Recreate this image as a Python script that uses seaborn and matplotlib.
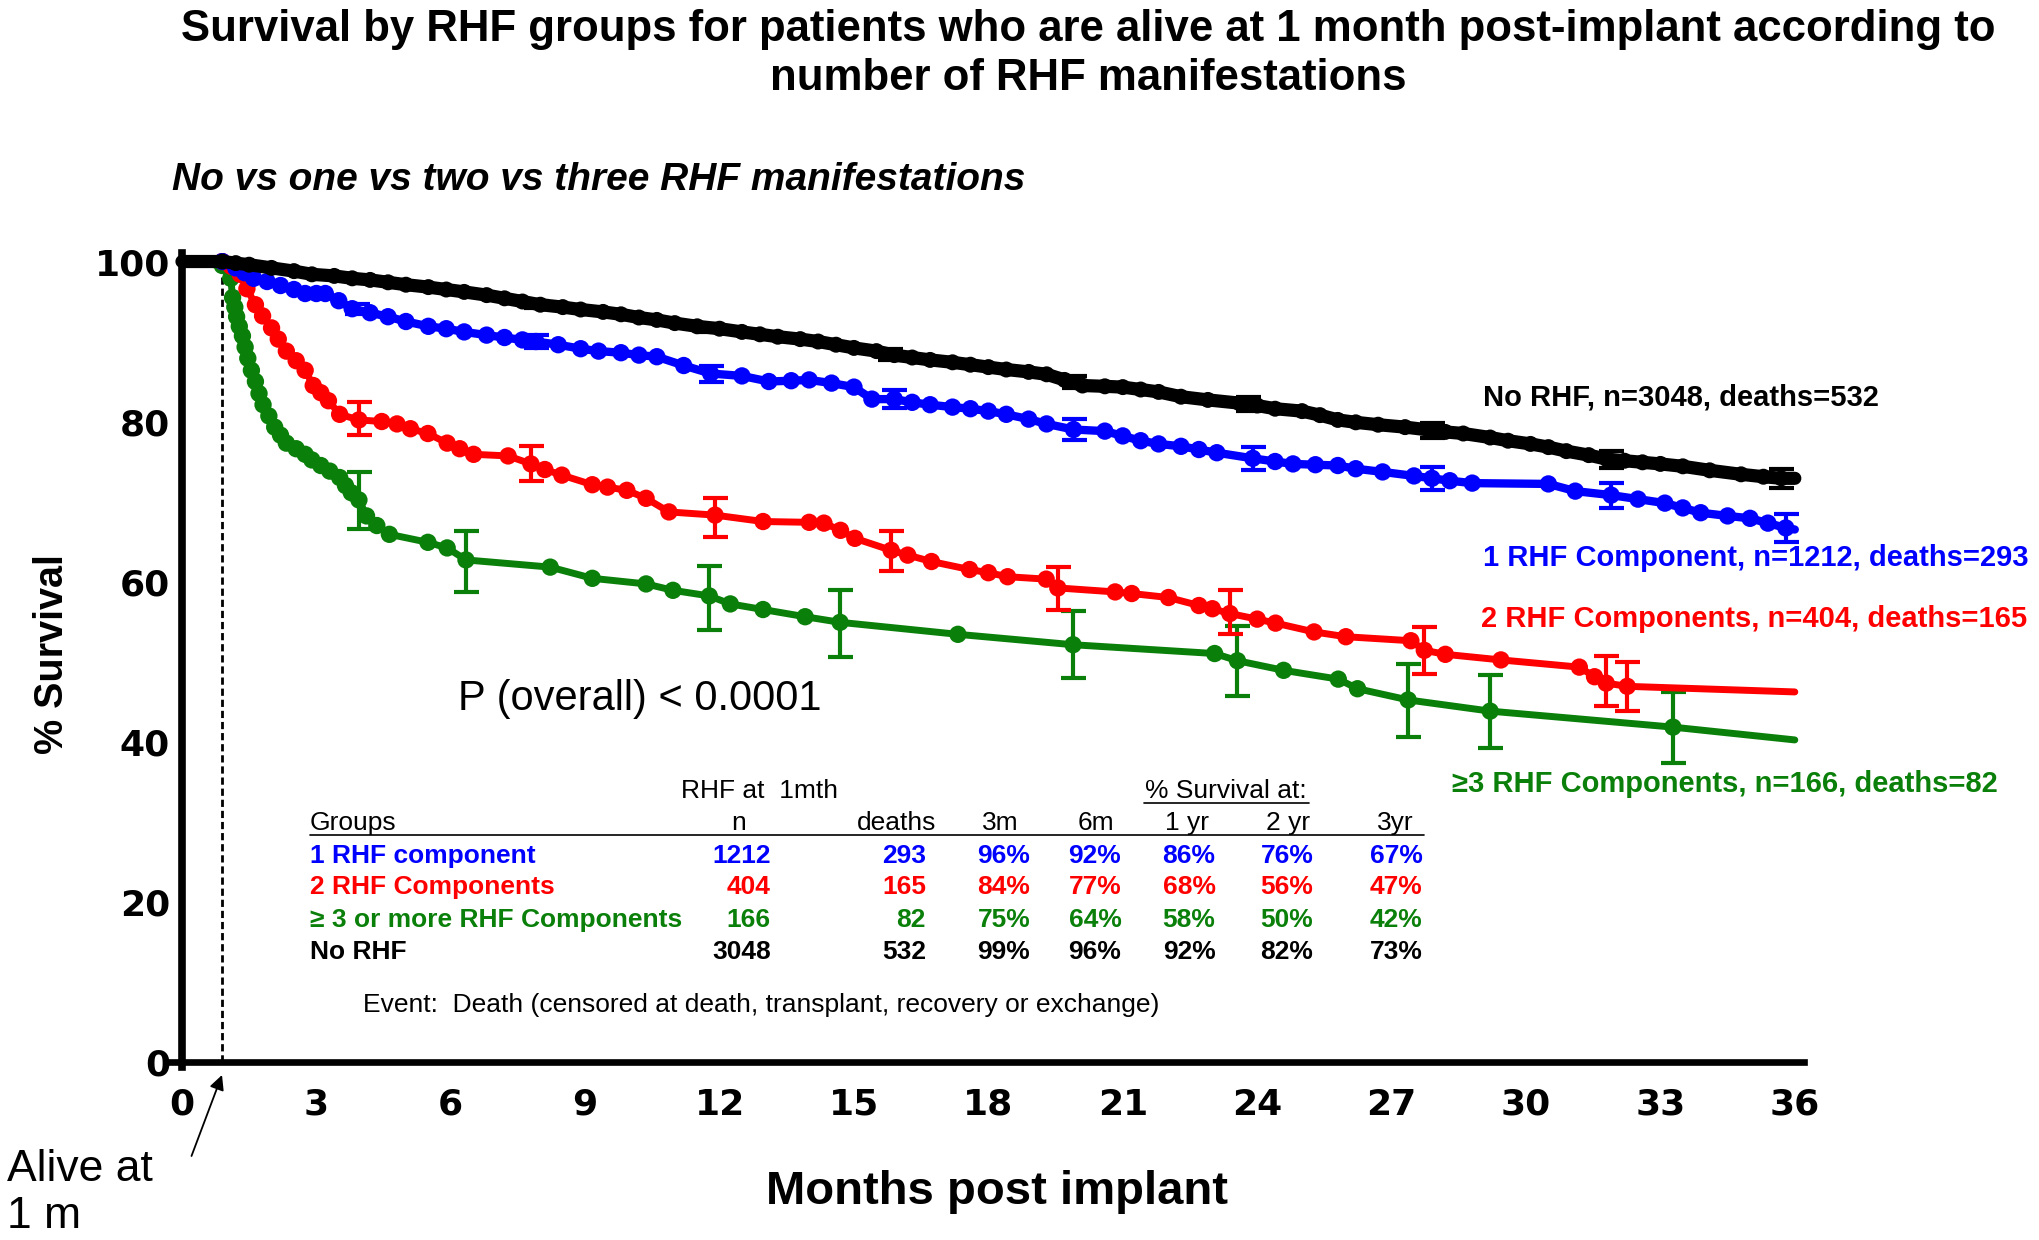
import numpy as np
import pandas as pd
import matplotlib
matplotlib.use("Agg")
import matplotlib.pyplot as plt
import seaborn as sns
from matplotlib.lines import Line2D

# ---------------- data ----------------
XTICKS = list(range(0, 37, 3))
YTICKS = list(range(0, 101, 20))
ALIVE_T = 0.9

# No RHF
no_t = [0, 0.9, 1.2, 1.5, 2.0, 2.5, 2.9, 3.4, 3.8, 4.2, 4.6, 5.0, 5.5, 5.9, 6.3, 6.8, 7.2, 7.6,
        8.0, 8.5, 8.9, 9.4, 9.8, 10.2, 10.6, 11.0, 11.5, 12.0, 12.5, 12.9, 13.3, 13.8, 14.2,
        14.6, 15.0, 15.5, 15.9, 16.3, 16.7, 17.2, 17.6, 18.0, 18.4, 18.9, 19.3, 19.7, 20.1,
        20.6, 21.0, 21.4, 21.8, 22.3, 22.9, 23.6, 24.0, 24.4, 25.0, 25.4, 25.8, 26.2, 26.7,
        27.3, 27.9, 28.2, 28.6, 29.2, 29.6, 30.1, 30.5, 30.9, 31.4, 31.8, 32.2, 32.6, 33.0,
        33.5, 34.1, 34.8, 35.3, 35.7, 36.0]
no_s = [100, 100, 99.8, 99.6, 99.2, 98.8, 98.4, 98.2, 97.9, 97.7, 97.4, 97.1, 96.8, 96.5, 96.2,
        95.8, 95.4, 95.0, 94.6, 94.3, 94.0, 93.7, 93.4, 93.0, 92.7, 92.3, 91.9, 91.6, 91.2,
        90.9, 90.6, 90.3, 90.0, 89.6, 89.2, 88.8, 88.3, 88.0, 87.7, 87.4, 87.1, 86.8, 86.5,
        86.2, 85.9, 85.2, 84.5, 84.4, 84.3, 84.0, 83.7, 83.1, 82.7, 82.3, 82.0, 81.6, 81.3,
        80.8, 80.2, 79.9, 79.6, 79.3, 78.9, 78.7, 78.5, 78.0, 77.6, 77.2, 76.8, 76.3, 75.8,
        75.3, 75.1, 74.9, 74.7, 74.4, 73.9, 73.4, 73.1, 72.9, 72.9]
no_eb_t = [3.9, 7.9, 11.8, 15.8, 19.9, 23.8, 27.9, 31.9, 35.7]
no_eb_s = [97.9, 94.6, 91.7, 88.4, 84.9, 82.2, 78.9, 75.3, 72.9]
no_eb_e = [0.3, 0.45, 0.55, 0.65, 0.75, 0.85, 0.95, 1.05, 1.15]

# 1 RHF component
one_t = [0, 0.9, 1.2, 1.4, 1.6, 1.9, 2.2, 2.5, 2.75, 3.0, 3.2, 3.5, 3.8, 4.2, 4.6, 5.0, 5.5,
         5.9, 6.3, 6.8, 7.2, 7.6, 7.9, 8.4, 8.9, 9.3, 9.8, 10.2, 10.6, 11.2, 11.8, 12.5, 13.1,
         13.6, 14.0, 14.5, 15.0, 15.4, 15.9, 16.3, 16.7, 17.2, 17.6, 18.0, 18.4, 18.9, 19.3,
         19.9, 20.6, 21.0, 21.4, 21.8, 22.3, 22.7, 23.1, 23.9, 24.4, 24.8, 25.3, 25.8, 26.2,
         26.8, 27.5, 27.9, 28.3, 28.8, 30.5, 31.1, 31.9, 32.5, 33.1, 33.5, 33.9, 34.5, 35.0,
         35.4, 35.8, 36.0]
one_s = [100, 100, 99.2, 98.6, 97.9, 97.5, 97.0, 96.5, 96.0, 96.0, 96.0, 95.1, 94.1, 93.6,
         93.1, 92.5, 91.9, 91.6, 91.2, 90.8, 90.5, 90.2, 90.0, 89.6, 89.1, 88.8, 88.6, 88.3,
         88.1, 87.0, 86.0, 85.7, 85.0, 85.1, 85.2, 84.8, 84.3, 82.8, 82.8, 82.4, 82.1, 81.8,
         81.6, 81.3, 80.9, 80.3, 79.7, 79.0, 78.8, 78.2, 77.6, 77.2, 76.9, 76.5, 76.1, 75.4,
         75.0, 74.7, 74.6, 74.5, 74.1, 73.7, 73.2, 72.9, 72.6, 72.3, 72.2, 71.3, 70.8, 70.3,
         69.8, 69.2, 68.6, 68.2, 67.9, 67.3, 66.7, 66.5]
one_eb_t = [3.9, 7.9, 11.8, 15.9, 19.9, 23.9, 27.9, 31.9, 35.8]
one_eb_s = [94.1, 90.0, 86.0, 82.8, 79.0, 75.4, 72.9, 70.8, 66.7]
one_eb_e = [0.6, 0.8, 1.0, 1.1, 1.3, 1.4, 1.45, 1.55, 1.8]

# 2 RHF components
two_t = [0, 0.9, 1.1, 1.3, 1.45, 1.64, 1.8, 2.0, 2.15, 2.33, 2.55, 2.75, 2.93, 3.1, 3.27, 3.52,
         3.95, 4.46, 4.8, 5.1, 5.49, 5.92, 6.2, 6.51, 7.28, 7.79, 8.1, 8.48, 9.16, 9.5, 9.93,
         10.36, 10.87, 11.9, 12.97, 14.0, 14.33, 14.7, 15.02, 15.83, 16.2, 16.73, 17.58, 18.0,
         18.43, 19.29, 19.55, 20.83, 21.2, 22.02, 22.7, 23.0, 23.39, 24.0, 24.41, 25.27, 25.98,
         27.43, 27.73, 28.2, 29.44, 31.19, 31.53, 31.79, 32.26, 36.0]
two_s = [100, 100, 99.4, 98.4, 96.6, 94.6, 93.2, 91.7, 90.3, 88.8, 87.6, 86.4, 84.5, 83.6, 82.6,
         80.9, 80.2, 80.0, 79.7, 79.1, 78.5, 77.3, 76.6, 75.9, 75.7, 74.7, 74.0, 73.3, 72.1,
         71.8, 71.4, 70.4, 68.7, 68.3, 67.5, 67.4, 67.3, 66.4, 65.4, 63.9, 63.3, 62.5, 61.5,
         61.1, 60.6, 60.3, 59.2, 58.7, 58.5, 58.0, 57.0, 56.6, 56.0, 55.3, 54.8, 53.7, 53.1,
         52.6, 51.4, 50.9, 50.2, 49.3, 48.1, 47.3, 46.9, 46.2]
two_eb_t = [3.95, 7.79, 11.9, 15.83, 19.55, 23.39, 27.73, 31.79, 32.26]
two_eb_s = [80.35, 74.75, 68.0, 63.8, 59.15, 56.15, 51.4, 47.6, 46.9]
two_eb_e = [2.05, 2.15, 2.4, 2.5, 2.65, 2.75, 2.9, 3.1, 3.1]

# >=3 RHF components
three_t = [0, 0.9, 1.05, 1.09, 1.13, 1.18, 1.22, 1.28, 1.35, 1.41, 1.47, 1.55, 1.64, 1.72, 1.81,
           1.94, 2.07, 2.2, 2.33, 2.55, 2.75, 2.9, 3.1, 3.3, 3.52, 3.65, 3.78, 3.95, 4.12, 4.35,
           4.63, 5.49, 5.92, 6.34, 8.22, 9.16, 10.36, 10.96, 11.77, 12.24, 12.97, 13.91, 14.69,
           17.32, 19.89, 23.05, 23.56, 24.59, 25.81, 26.24, 27.37, 29.2, 33.28, 36.0]
three_s = [100, 99.5, 99.2, 97.9, 95.5, 94.3, 93.1, 91.9, 90.7, 89.3, 87.9, 86.4, 85.0, 83.5,
           82.1, 80.7, 79.3, 78.3, 77.3, 76.6, 75.9, 75.2, 74.5, 73.8, 73.0, 72.0, 71.1, 70.2,
           68.2, 67.0, 65.9, 64.9, 64.2, 62.7, 61.8, 60.4, 59.7, 58.9, 58.2, 57.2, 56.5, 55.6,
           54.9, 53.4, 52.1, 51.0, 50.1, 48.9, 47.8, 46.6, 45.2, 43.8, 41.8, 40.2]
three_eb_t = [3.95, 6.34, 11.77, 14.69, 19.89, 23.56, 27.37, 29.2, 33.28]
three_eb_s = [70.15, 62.5, 57.95, 54.75, 52.1, 50.05, 45.15, 43.75, 41.75]
three_eb_e = [3.55, 3.8, 4.05, 4.15, 4.2, 4.35, 4.55, 4.55, 4.45]

SERIES_LABELS = ["No RHF, n=3048, deaths=532",
                 "1 RHF Component, n=1212, deaths=293",
                 "2 RHF Components, n=404, deaths=165",
                 "\u22653 RHF Components, n=166, deaths=82"]

TABLE_GROUPS = ["1 RHF component", "2 RHF Components",
                "\u2265 3 or more RHF Components", "No RHF"]
TABLE_N = ["1212", "404", "166", "3048"]
TABLE_DEATHS = ["293", "165", "82", "532"]
TABLE_PCT_HEAD = ["3m", "6m", "1 yr", "2 yr", "3yr"]
TABLE_PCT = [["96%", "92%", "86%", "76%", "67%"],
             ["84%", "77%", "68%", "56%", "47%"],
             ["75%", "64%", "58%", "50%", "42%"],
             ["99%", "96%", "92%", "82%", "73%"]]

TITLE = ("Survival by RHF groups for patients who are alive at 1 month post-implant according to\n"
         "number of RHF manifestations")
SUBTITLE = "No vs one vs two vs three RHF manifestations"
PTEXT = "P (overall) < 0.0001"
EVENT = "Event:  Death (censored at death, transplant, recovery or exchange)"

# ---------------- style ----------------
BLUE, RED, GREEN, BLACK = "#0000FF", "#FF0000", "#0A800A", "#000000"

sns.set_style("white")
plt.rcParams["font.family"] = ["Liberation Sans", "DejaVu Sans"]
plt.rcParams["text.color"] = "black"
plt.rcParams["axes.labelcolor"] = "black"
plt.rcParams["xtick.color"] = "black"
plt.rcParams["ytick.color"] = "black"

W, H = 2040, 1240
fig = plt.figure(figsize=(W / 100, H / 100), dpi=100)


def fx(px):
    return px / W


def fy(py):
    return 1 - py / H


ax = fig.add_axes([0.0837, 0.1394, 0.8005, 0.6568])
ax.set_xlim(-0.25, 36.2)
ax.set_ylim(-0.7, 101.1)

series = [
    (three_t, three_s, three_eb_t, three_eb_s, three_eb_e, GREEN, 5.0, 12.5, 3),
    (two_t, two_s, two_eb_t, two_eb_s, two_eb_e, RED, 5.0, 12.5, 4),
    (one_t, one_s, one_eb_t, one_eb_s, one_eb_e, BLUE, 6.0, 12.5, 5),
    (no_t, no_s, no_eb_t, no_eb_s, no_eb_e, BLACK, 9.5, 11.5, 6),
]
for t, s, et, es, ee, col, lw, ms, z in series:
    sns.lineplot(x=t, y=s, ax=ax, color=col, lw=lw, sort=False, estimator=None,
                 legend=False, zorder=z)
    sns.scatterplot(x=t[1:-1], y=s[1:-1], ax=ax, color=col, s=ms ** 2, edgecolor="none",
                    linewidth=0, legend=False, zorder=z)
    ax.errorbar(et, es, yerr=ee, fmt="none", ecolor=col, elinewidth=3.0, capsize=9,
                capthick=3.0, zorder=z)

ax.vlines(ALIVE_T, 0, 101.5, colors="k", linestyles=(0, (2.6, 1.4)), lw=2.0, zorder=2)

# axes styling
for side in ["top", "right"]:
    ax.spines[side].set_visible(False)
ax.spines["left"].set_position(("data", 0))
ax.spines["bottom"].set_position(("data", 0))
ax.spines["left"].set_linewidth(5.5)
ax.spines["bottom"].set_linewidth(4.8)
ax.spines["left"].set_color("k")
ax.spines["bottom"].set_color("k")

tick_font = dict(fontfamily="DejaVu Sans", fontweight="bold", fontsize=26, color="black")
ax.set_xticks(XTICKS, labels=[str(v) for v in XTICKS], **tick_font)
ax.set_xticks(np.arange(0, 36.1, 1.5), minor=True)
ax.set_yticks(YTICKS, labels=[str(v) for v in YTICKS], **tick_font)
ax.set_yticks(np.arange(0, 101, 5), minor=True)
ax.tick_params(axis="x", which="major", direction="in", length=13.5, width=5.5, pad=19, color="k")
ax.tick_params(axis="x", which="minor", direction="in", length=7.2, width=5.5, color="k")
ax.tick_params(axis="y", which="major", direction="in", length=17.8, width=4.3, pad=8.5, color="k")
ax.tick_params(axis="y", which="minor", direction="in", length=9.4, width=4.3, color="k")
ax.grid(False)
ax.set_xlabel("")
ax.set_ylabel("")

# titles and labels
fig.text(fx(1088), fy(54), TITLE, ha="center", va="center", fontsize=31.5,
         fontweight="bold", linespacing=1.25)
fig.text(fx(172), fy(180), SUBTITLE, ha="left", va="center", fontsize=28,
         fontweight="bold", fontstyle="italic")
fig.text(fx(52), fy(654), "% Survival", rotation=90, ha="center", va="center",
         fontsize=28.5, fontweight="bold")
fig.text(fx(997), fy(1192), "Months post implant", ha="center", va="center",
         fontsize=34, fontweight="bold")

# series labels
lab_pos = [(1483, 397), (1483, 558), (1481, 619), (1452, 784)]
lab_col = [BLACK, BLUE, RED, GREEN]
for txt, (px, py), c in zip(SERIES_LABELS, lab_pos, lab_col):
    fig.text(fx(px), fy(py), txt, ha="left", va="center", fontsize=21,
             fontweight="bold", color=c)

fig.text(fx(458), fy(699), PTEXT, ha="left", va="center", fontsize=30)

# alive-at annotation
fig.text(fx(7), fy(1193), "Alive at\n1 m", ha="left", va="center", fontsize=32,
         linespacing=1.2)
ax.annotate("", xy=(fx(222), fy(1075)), xycoords="figure fraction",
            xytext=(fx(191.5), fy(1156)), textcoords="figure fraction",
            arrowprops=dict(arrowstyle="-|>", lw=1.3, color="k", mutation_scale=22,
                            shrinkA=0, shrinkB=0),
            annotation_clip=False)

# summary table
TF = 19
fig.text(fx(760), fy(791), "RHF at  1mth", ha="center", va="center", fontsize=TF)
fig.text(fx(1226), fy(791), "% Survival at:", ha="center", va="center", fontsize=TF)
fig.add_artist(Line2D([fx(1144), fx(1309)], [fy(803), fy(803)], transform=fig.transFigure,
                      color="k", lw=1.2))
hy = 823
fig.text(fx(310), fy(hy), "Groups", ha="left", va="center", fontsize=TF)
fig.text(fx(739), fy(hy), "n", ha="center", va="center", fontsize=TF)
fig.text(fx(897), fy(hy), "deaths", ha="center", va="center", fontsize=TF)
pct_x = [1004, 1095, 1189, 1287, 1396]
head_x = [1000, 1096, 1187, 1288, 1395]
for h, px in zip(TABLE_PCT_HEAD, head_x):
    fig.text(fx(px), fy(hy), h, ha="center", va="center", fontsize=TF)
fig.add_artist(Line2D([fx(310), fx(1424)], [fy(835), fy(835)], transform=fig.transFigure,
                      color="k", lw=1.2))
row_y = [856, 887, 920, 952]
row_col = [BLUE, RED, GREEN, BLACK]
for i, ry in enumerate(row_y):
    c = row_col[i]
    fig.text(fx(310), fy(ry), TABLE_GROUPS[i], ha="left", va="center", fontsize=TF,
             fontweight="bold", color=c)
    fig.text(fx(771), fy(ry), TABLE_N[i], ha="right", va="center", fontsize=TF,
             fontweight="bold", color=c)
    fig.text(fx(926), fy(ry), TABLE_DEATHS[i], ha="right", va="center", fontsize=TF,
             fontweight="bold", color=c)
    for v, px in zip(TABLE_PCT[i], pct_x):
        fig.text(fx(px), fy(ry), v, ha="center", va="center", fontsize=TF,
                 fontweight="bold", color=c)
fig.text(fx(363), fy(1005), EVENT, ha="left", va="center", fontsize=TF)

fig.savefig("out.png", dpi=100, facecolor="white")
